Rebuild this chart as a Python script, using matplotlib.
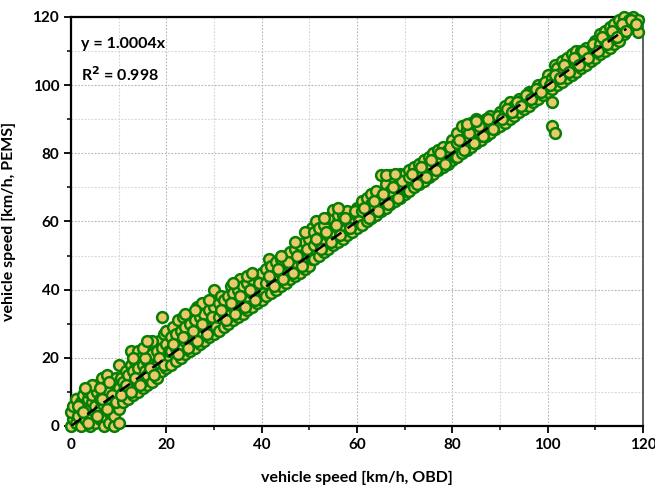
import matplotlib
matplotlib.use("Agg")
import matplotlib.pyplot as plt
from matplotlib.ticker import MultipleLocator

plt.rcParams['font.family'] = ['Lato', 'DejaVu Sans']

# (OBD speed, PEMS speed) pairs, grouped by speed range
seg_0_10 = [(0,0),(0.5,2),(0,4),(0.5,6),(1,8),(1,1),(1.5,3),(2,0),(2,5),(2,7),(2.5,9),(3,2),(3,4),(3,6),
            (3.5,8),(3.5,10),(4,0),(4,3),(4,5),(4.5,7),(4.5,9),(5,1),(5,4),(5,6),(5.5,10),(5.5,12),(6,2),
            (6,5),(6,8),(6.5,11),(6.5,14),(7,0),(7,3),(7,6),(7,9),(7.5,12),(7.5,15),(8,1),(8,4),(8,7),
            (8,10),(8.5,13),(9,0),(9,3),(9,6),(9,9),(9.5,12),(9.5,14),(10,1),(10,5),(10,8),(10,11),(10,18),
            (1.5,6),(2.5,4),(3.5,1),(4.5,12),(5.5,3),(6.5,8),(7.5,5),(8.5,9),(9.5,7),(6,11),(8,13),(3,11)]
seg_10_20 = [(10.5,14),(11,7),(11,10),(11,13),(11.5,16),(12,8),(12,11),(12,15),(12.5,18),(12.5,22),(13,9),
             (13,12),(13,16),(13.5,19),(14,10),(14,13),(14,17),(14,22),(14.5,20),(15,11),(15,14),(15,18),
             (15.5,16),(16,12),(16,15),(16,19),(16.5,22),(17,13),(17,17),(17,21),(17.5,24),(18,14),(18,18),
             (18,22),(18.5,25),(19,16),(19,19),(19,23),(19,32),(19.5,27),(20,17),(20,20),(20,24),(20,28),
             (10.5,9),(11.5,12),(12.5,10),(13.5,14),(14.5,12),(15.5,20),(16.5,17),(17.5,15),(18.5,20),
             (19.5,18),(20.5,22),(13,20),(15,23),(17,25),(16,25)]
seg_20_30 = [(21,18),(21,22),(21,26),(21.5,29),(22,19),(22,23),(22,27),(22.5,31),(23,20),(23,24),(23,28),
             (23.5,32),(24,21),(24,25),(24,29),(25,22),(25,26),(25,30),(25.5,33),(26,23),(26,27),(26,31),
             (26.5,35),(27,24),(27,28),(27,32),(27.5,36),(28,25),(28,29),(28,33),(29,26),(29,30),(29,34),
             (30,27),(30,31),(30,35),(30,40),
             (21.5,24),(22.5,21),(23.5,26),(24.5,23),(25.5,28),(26.5,25),(27.5,30),(28.5,27),(29.5,32),
             (30.5,29),(24,33),(26,34),(29,37)]
seg_30_40 = [(31,28),(31,32),(31,36),(31.5,38),(32,29),(32,33),(32,37),(33,30),(33,34),(33,38),(33.5,41),
             (34,31),(34,35),(34,39),(35,32),(35,36),(35,40),(35.5,43),(36,33),(36,37),(36,41),(37,34),
             (37,38),(37,42),(38,35),(38,39),(38,43),(39,36),(39,40),(39,44),(40,37),(40,41),(40,45),
             (31.5,34),(32.5,31),(33.5,36),(34.5,33),(35.5,38),(36.5,35),(37.5,40),(38.5,37),(39.5,42),
             (40.5,39),(34,42),(37,44),(38,45)]
seg_40_50 = [(41,38),(41,42),(41,46),(41.5,49),(42,39),(42,43),(42,47),(43,40),(43,44),(43,48),(44,41),
             (44,45),(44,49),(45,42),(45,46),(45,50),(46,43),(46,47),(46,51),(47,44),(47,48),(47,52),
             (48,45),(48,49),(48,53),(49,46),(49,50),(49,54),(50,47),(50,51),(50,55),(50.5,58),
             (41.5,44),(42.5,41),(43.5,46),(44.5,43),(45.5,48),(46.5,45),(47.5,50),(48.5,47),(49.5,52),
             (50.5,49),(44,50),(47,54),(49,57)]
seg_50_60 = [(51,49),(51,53),(51,57),(51.5,60),(52,50),(52,54),(52,58),(53,51),(53,55),(53,59),(54,52),
             (54,56),(54,61),(55,53),(55,57),(55,63.5),(56,54),(56,58),(56,62),(57,55),(57,59),(57,62),
             (58,56),(58,60),(58,63),(59,57),(59,61),(60,58),(60,62),(60,64),
             (51.5,55),(52.5,52),(53.5,57),(54.5,54),(55.5,59),(56.5,56),(57.5,61),(58.5,58),(59.5,63),
             (60.5,60),(53,61),(56,64)]
seg_60_70 = [(61,59),(61,63),(61,66),(62,60),(62,64),(62,67),(63,61),(63,65),(63,68),(64,62),(64,66),
             (64,69),(65,63),(65,67),(65,73.5),(66,64),(66,68),(66,71),(67,65),(67,69),(67,73.5),(68,66),
             (68,70),(68,72),(69,67),(69,71),(69,74),(70,68),(70,72),(70,74),
             (61.5,64),(62.5,61),(63.5,66),(64.5,63),(65.5,68),(66.5,65),(67.5,70),(68.5,67),(69.5,72),
             (70.5,69),(66,73.5),(68,74)]
seg_70_80 = [(71,69),(71,73),(71,75),(72,70),(72,74),(72,76),(73,71),(73,75),(73,77),(74,72),(74,76),
             (74,78),(75,73),(75,77),(75,79),(76,74),(76,78),(76,80),(77,75),(77,79),(77,81),(78,76),
             (78,80),(78,82),(79,77),(79,81),(80,78),(80,82),(80,84),
             (71.5,74),(72.5,71),(73.5,76),(74.5,73),(75.5,78),(76.5,75),(77.5,80),(78.5,77),(79.5,82),
             (80.5,79)]
seg_80_90 = [(81,79),(81,83),(81,86),(82,80),(82,84),(82,88),(83,81),(83,85),(83,87),(84,82),(84,86),
             (84,89),(85,83),(85,87),(85,90),(86,84),(86,88),(86,89),(87,85),(87,88),(87,90),(88,86),
             (88,89),(88,91),(89,87),(89,90),(90,88),(90,91),(90,92),
             (81.5,84),(82.5,81),(83.5,86),(84.5,83),(85.5,88),(86.5,85),(87.5,90),(88.5,87),(89.5,91),
             (83,88.5),(85,89.5)]
seg_90_100 = [(91,89),(91,92),(91,94),(92,90),(92,93),(92,95),(93,91),(93,94),(94,92),(94,95),(94,96),
              (95,93),(95,96),(96,94),(96,97),(96,98),(97,95),(97,98),(98,96),(98,99),(98,100),(99,97),
              (99,100),(100,98),(100,101),(100,103),
              (90.5,90),(91.5,93),(92.5,92),(93.5,95),(94.5,94),(95.5,97),(96.5,96),(97.5,99),(98.5,98),
              (99.5,101)]
seg_100_110 = [(101,95),(101,88),(101.5,86),(101,99),(101,102),(101.5,106),(102,100),(102,103),(102,105),
               (103,101),(103,104),(103,107),(104,102),(104,105),(104,108),(105,103),(105,106),(105,109),
               (106,104),(106,107),(106,110),(107,105),(107,108),(107,110),(108,106),(108,109),(108,111),
               (109,107),(109,110),(110,108),(110,111),(110,113),
               (100.5,100),(101.5,103),(102.5,102),(103.5,106),(104.5,104),(105.5,108),(106.5,106),
               (107.5,110),(108.5,108),(109.5,112)]
seg_110_120 = [(111,109),(111,112),(111,115),(112,110),(112,113),(112,116),(113,111),(113,114),(113,117),
               (114,112),(114,115),(114,118),(115,113),(115,116),(115,119),(116,115),(116,118),(116,120),
               (117,117),(117,119),(118,118),(118,120),(119,115.5),(119,119),
               (110.5,110),(111.5,114),(112.5,112),(113.5,116),(114.5,114),(115.5,118),(116.5,116),
               (117.5,119),(118.5,118)]

fit_slope = 1.0004
fit_x_range = [0, 116.5]
eq_text = "y = 1.0004x"
r2_text = "R$^{\\mathbf{2}}$ = 0.998"

pairs = (seg_0_10 + seg_10_20 + seg_20_30 + seg_30_40 + seg_40_50 + seg_50_60 + seg_60_70 +
         seg_70_80 + seg_80_90 + seg_90_100 + seg_100_110 + seg_110_120)
obd = [p[0] for p in pairs]
pems = [p[1] for p in pairs]

fig = plt.figure(figsize=(6.55, 4.87), dpi=100)
ax = fig.add_axes([0.1084, 0.1253, 0.8733, 0.8398])

ax.scatter(obd, pems, s=60, facecolor='#EBC96B', edgecolor='#067F06', linewidth=1.8, zorder=3, clip_on=False)
ax.plot(fit_x_range, [fit_slope * v for v in fit_x_range], color='black', lw=1.8,
        dashes=(5, 3), zorder=4)

ax.set_xlim(0, 120)
ax.set_ylim(0, 120)
ax.xaxis.set_major_locator(MultipleLocator(20))
ax.yaxis.set_major_locator(MultipleLocator(20))
ax.xaxis.set_minor_locator(MultipleLocator(10))
ax.yaxis.set_minor_locator(MultipleLocator(10))
ax.grid(which='major', color='#b4b4b4', linestyle=(0, (1.5, 1.5)), linewidth=0.8, zorder=0)
ax.grid(which='minor', color='#d4d4d4', linestyle=(0, (1.5, 1.5)), linewidth=0.8, zorder=0)
ax.set_axisbelow(True)

for side in ['left', 'bottom', 'top']:
    ax.spines[side].set_linewidth(1.6)
    ax.spines[side].set_color('black')
ax.spines['right'].set_linewidth(1.2)
ax.spines['right'].set_color('#444444')

ax.tick_params(which='major', direction='out', length=5, width=1.3, labelsize=11)
ax.tick_params(which='minor', direction='out', length=3, width=1.1)
ax.tick_params(top=False, right=False, which='both')
for lbl in ax.get_xticklabels() + ax.get_yticklabels():
    lbl.set_fontweight('bold')

ax.set_xlabel("vehicle speed [km/h, OBD]", fontsize=11.5, fontweight='bold', labelpad=14)
ax.set_ylabel("vehicle speed [km/h, PEMS]", fontsize=11.5, fontweight='bold', labelpad=12)

ax.text(0.017, 0.935, eq_text, transform=ax.transAxes, fontsize=11.5, fontweight='bold', va='center')
ax.text(0.017, 0.86, r2_text, transform=ax.transAxes, fontsize=11.5, fontweight='bold', va='center')

fig.savefig("out.png", dpi=100)
